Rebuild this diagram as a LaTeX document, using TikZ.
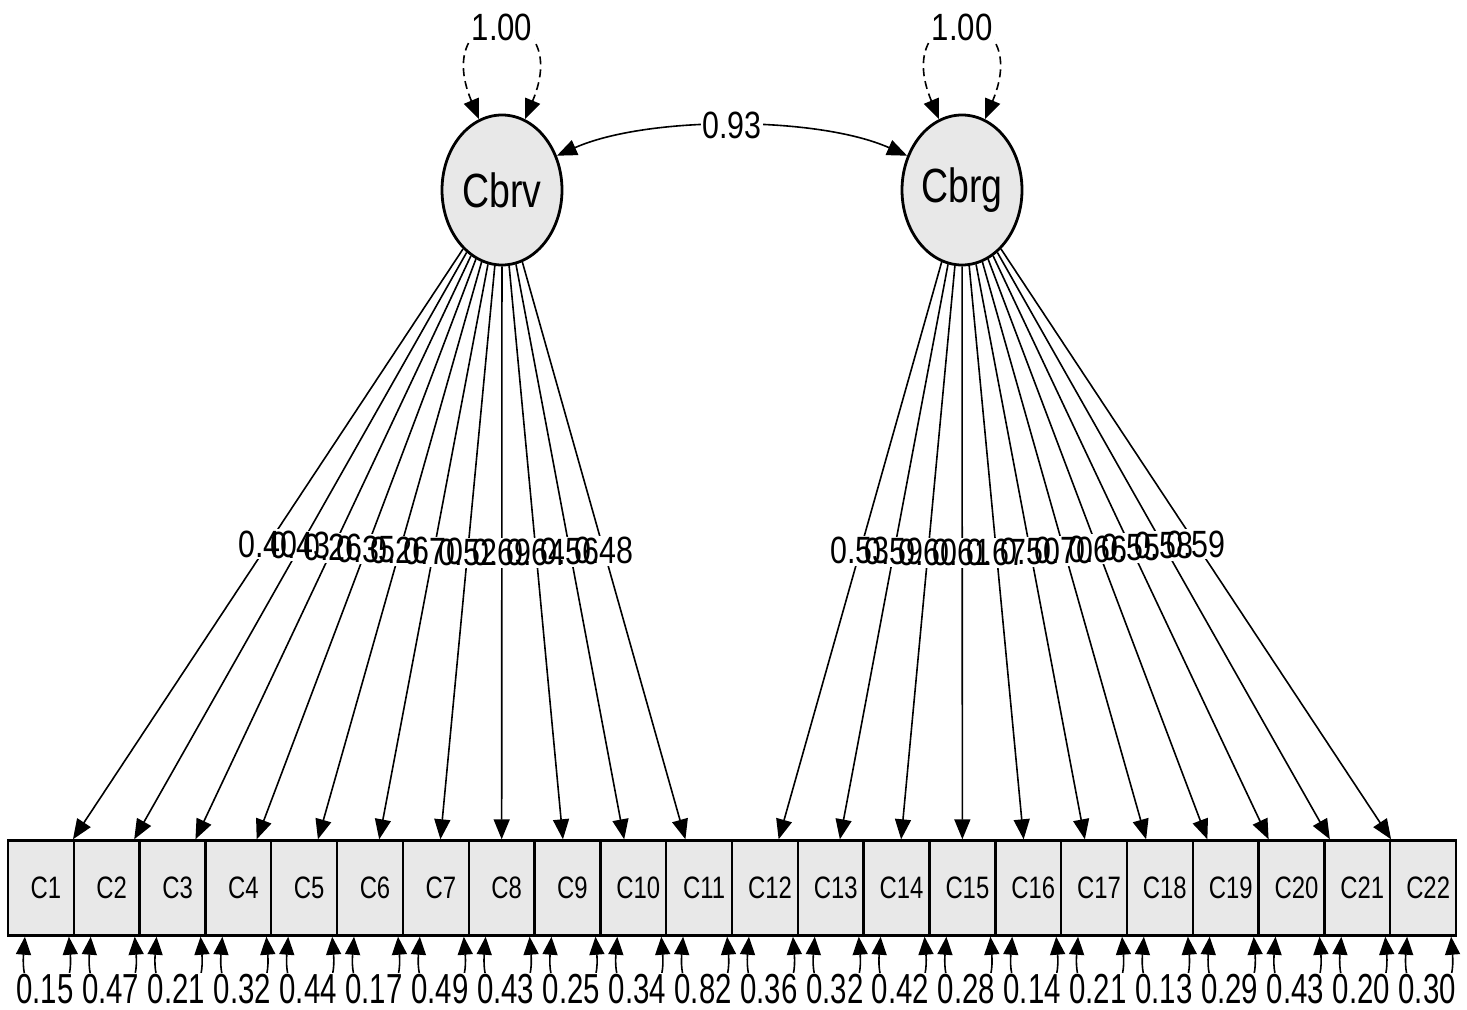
\documentclass[tikz,border=0pt]{standalone}
\usepackage{fontspec}
\setmainfont{Liberation Sans}
\usetikzlibrary{arrows.meta,shapes.geometric}
\definecolor{nodefill}{RGB}{232,232,232}
\newcommand{\sqz}[2]{\scalebox{#1}[1]{#2}}
\begin{document}
\begin{tikzpicture}[x=0.5pt,y=-0.5pt,
  >={Triangle[length=10pt,width=8pt]},
  lat/.style={ellipse, draw, line width=1.4pt, fill=nodefill, minimum width=60pt, minimum height=75pt, inner sep=0pt,
    font=\fontsize{24}{24}\selectfont},
  man/.style={rectangle, draw, line width=1.2pt, fill=nodefill, minimum width=32.91pt, minimum height=47.5pt, inner sep=0pt,
    font=\fontsize{15.5}{15.5}\selectfont},
  ld/.style={line width=0.8pt, ->},
  bi/.style={line width=0.8pt, <->},
  rbi/.style={line width=0.8pt, >={Triangle[length=9pt,width=7.5pt]}, <->},
  lbg/.style={fill=white, inner sep=0.8pt, text opacity=0, font=\fontsize{19}{19}\selectfont},
  ltx/.style={inner sep=0.8pt, font=\fontsize{19}{19}\selectfont},
  rlab/.style={fill=white, inner sep=0.6pt, font=\fontsize{21}{21}\selectfont},
]
\useasboundingbox (0,0) rectangle (1467,1010);

% latent variables
\node[lat] (Cbrv) at (502,190) {\sqz{0.78}{Cbrv}};
\node[lat] (Cbrg) at (962,190) {\sqz{0.78}{Cbrg}};

% manifest variables
\foreach \i in {1,...,22}
  \node[man] (C\i) at ({8+65.82*(\i-0.5)},888) {\hspace*{5pt}\sqz{0.77}{C\i}};

% loadings
\foreach \i in {1,...,11}
  \draw[ld] (Cbrv) -- (C\i);
\foreach \i in {12,...,22}
  \draw[ld] (Cbrg) -- (C\i);

% label backgrounds first
\foreach \i/\v in {1/0.40,2/0.43,3/0.26,4/0.35,5/0.26,6/0.70,7/0.52,8/0.69,9/0.64,10/0.56,11/0.48}
  \path (Cbrv) -- (C\i) node[midway, lbg] {\sqz{0.8}{\v}};
\foreach \i/\v in {12/0.53,13/0.59,14/0.60,15/0.61,16/0.67,17/0.50,18/0.70,19/0.66,20/0.55,21/0.58,22/0.59}
  \path (Cbrg) -- (C\i) node[midway, lbg] {\sqz{0.8}{\v}};
% label texts
\foreach \i/\v in {1/0.40,2/0.43,3/0.26,4/0.35,5/0.26,6/0.70,7/0.52,8/0.69,9/0.64,10/0.56,11/0.48}
  \path (Cbrv) -- (C\i) node[midway, ltx] {\sqz{0.8}{\v}};
\foreach \i/\v in {12/0.53,13/0.59,14/0.60,15/0.61,16/0.67,17/0.50,18/0.70,19/0.66,20/0.55,21/0.58,22/0.59}
  \path (Cbrg) -- (C\i) node[midway, ltx] {\sqz{0.8}{\v}};

% variances of latents
\draw[bi, dash pattern=on 4pt off 2.5pt] (Cbrv.108) .. controls +(-51,-122) and +(51,-122) .. (Cbrv.72)
  node[midway, fill=white, inner sep=0.8pt, font=\fontsize{19}{19}\selectfont] {\sqz{0.82}{1.00}};
\draw[bi, dash pattern=on 4pt off 2.5pt] (Cbrg.108) .. controls +(-51,-122) and +(51,-122) .. (Cbrg.72)
  node[midway, fill=white, inner sep=0.8pt, font=\fontsize{19}{19}\selectfont] {\sqz{0.82}{1.00}};

% covariance
\draw[bi] (Cbrv.32) .. controls +(90,-40) and +(-90,-40) .. (Cbrg.148)
  node[midway, fill=white, inner sep=0.8pt, font=\fontsize{19}{19}\selectfont] {\sqz{0.8}{0.93}};

% residuals
\foreach \i/\v in {1/0.15,2/0.47,3/0.21,4/0.32,5/0.44,6/0.17,7/0.49,8/0.43,9/0.25,10/0.34,11/0.82,
                   12/0.36,13/0.32,14/0.42,15/0.28,16/0.14,17/0.21,18/0.13,19/0.29,20/0.43,21/0.20,22/0.30}{
  \draw[rbi] ([xshift=-8pt]C\i.south) .. controls +(-3pt,-38pt) and +(3pt,-38pt) .. ([xshift=14pt]C\i.south);
  \node[rlab] (r\i) at ([xshift=2pt,yshift=-26pt]C\i.south) {\sqz{0.7}{\v}};
}
\end{tikzpicture}
\end{document}
